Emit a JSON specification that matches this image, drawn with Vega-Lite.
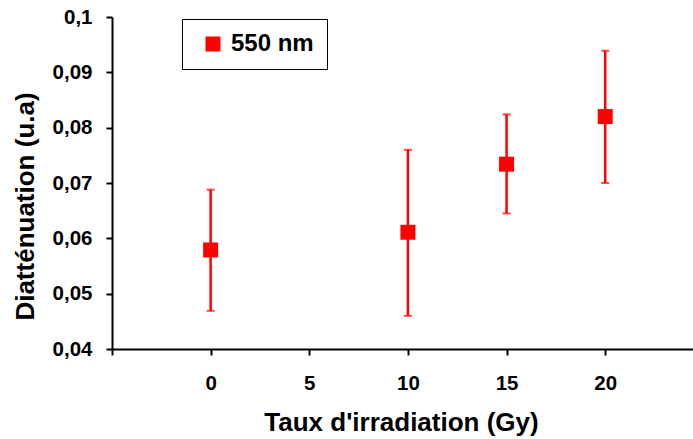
{
  "$schema": "https://vega.github.io/schema/vega-lite/v6.json",
  "width": 581,
  "height": 332,
  "autosize": {"type": "none"},
  "padding": {"left": 112, "top": 17, "right": 0, "bottom": 90},
  "background": "white",
  "config": {
    "view": {"stroke": null},
    "font": "Liberation Sans",
    "axis": {
      "domainColor": "black",
      "domainWidth": 2,
      "tickColor": "black",
      "tickWidth": 2,
      "tickSize": 6,
      "grid": false,
      "labelFont": "Liberation Sans",
      "labelFontWeight": "bold",
      "labelFontSize": 20.5,
      "labelColor": "black",
      "titleFont": "Liberation Sans",
      "titleFontWeight": "bold",
      "titleFontSize": 26,
      "titleColor": "black"
    }
  },
  "data": {
    "values": [
      {"dose": 0, "att": 0.0579, "lo": 0.0469, "hi": 0.0688, "series": "550 nm"},
      {"dose": 10, "att": 0.0611, "lo": 0.0460, "hi": 0.0760, "series": "550 nm"},
      {"dose": 15, "att": 0.0734, "lo": 0.0645, "hi": 0.0824, "series": "550 nm"},
      {"dose": 20, "att": 0.0820, "lo": 0.0700, "hi": 0.0939, "series": "550 nm"}
    ]
  },
  "encoding": {
    "x": {
      "field": "dose",
      "type": "quantitative",
      "scale": {"domain": [-5, 24.45], "nice": false, "zero": false},
      "axis": {
        "values": [-5, 0, 5, 10, 15, 20],
        "labelExpr": "datum.value == -5 ? '' : datum.label",
        "labelPadding": 18,
        "labelFlush": false,
        "title": "Taux d'irradiation (Gy)",
        "titleX": 289,
        "titleY": 81,
        "titleBaseline": "alphabetic"
      }
    }
  },
  "layer": [
    {
      "mark": {
        "type": "errorbar",
        "ticks": {"size": 8, "thickness": 2, "color": "#ff0000"},
        "rule": {"strokeWidth": 2.5, "color": "#ff0000"}
      },
      "encoding": {
        "y": {
          "field": "lo",
          "type": "quantitative",
          "scale": {"domain": [0.04, 0.1], "nice": false, "zero": false},
          "axis": {
            "values": [0.04, 0.05, 0.06, 0.07, 0.08, 0.09, 0.1],
            "labelExpr": "replace(format(datum.value, '.2~f'), '.', ',')",
            "labelPadding": 14,
            "title": "Diatténuation (u.a)",
            "titleAngle": -90,
            "titleX": -79,
            "titleY": 189,
            "titleAlign": "center",
            "titleBaseline": "alphabetic"
          }
        },
        "y2": {"field": "hi"}
      }
    },
    {
      "mark": {"type": "point", "shape": "square", "filled": true, "size": 225, "opacity": 1},
      "encoding": {
        "y": {"field": "att", "type": "quantitative"},
        "color": {
          "field": "series",
          "type": "nominal",
          "scale": {"range": ["#ff0000"]},
          "legend": {
            "title": null,
            "orient": "none",
            "legendX": 70,
            "legendY": 2,
            "strokeColor": "black",
            "fillColor": "white",
            "padding": 13,
            "symbolType": "square",
            "symbolSize": 225,
            "symbolStrokeWidth": 0,
            "symbolOpacity": 1,
            "symbolOffset": 6,
            "labelOffset": 6,
            "labelFont": "Liberation Sans",
            "labelFontWeight": "bold",
            "labelFontSize": 24,
            "labelColor": "black"
          }
        }
      }
    }
  ]
}
